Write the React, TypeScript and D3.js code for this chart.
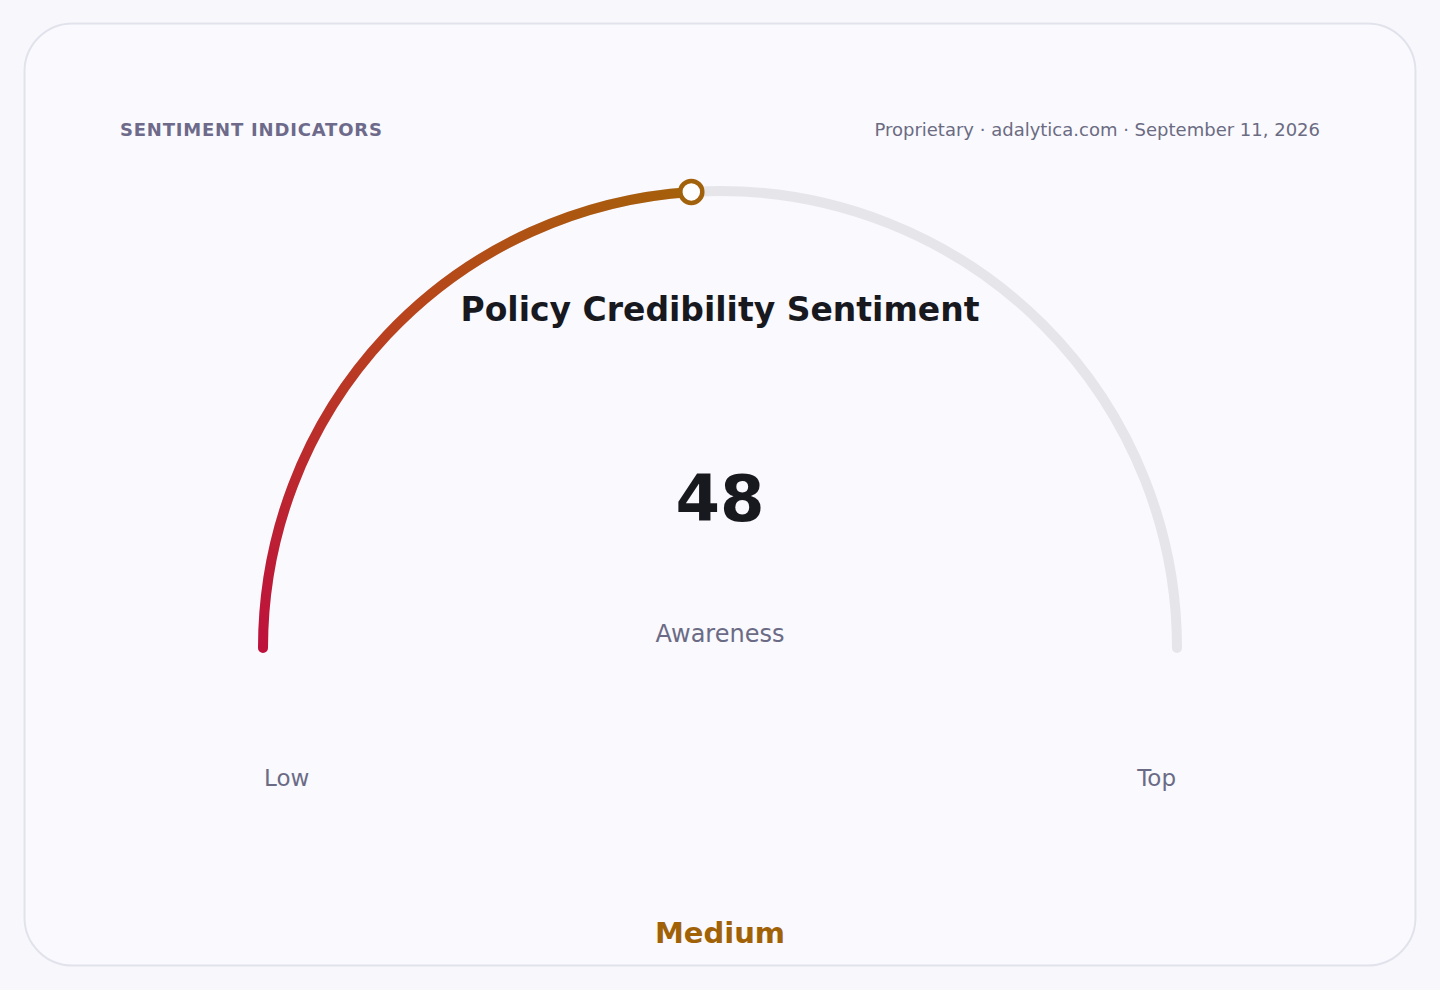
import React, { useEffect, useRef } from 'react';
import * as d3 from 'd3';

// gauge data
const gaugeValue = 48;
const gaugeDomain = [0, 100];
const gaugeTitle = 'Policy Credibility Sentiment';
const gaugeSubLabel = 'Awareness';
const gaugeBand = 'Medium';
const endLabels = ['Low', 'Top'];
const headerLeft = 'SENTIMENT INDICATORS';
const headerRight = 'Proprietary · adalytica.com · September 11, 2026';

const W = 1440;
const H = 990;

const App: React.FC = () => {
  const svgRef = useRef<SVGSVGElement>(null);

  useEffect(() => {
    if (!svgRef.current) return;
    const svg = d3.select(svgRef.current);
    svg.selectAll('*').remove();

    const font = "'DejaVu Sans', sans-serif";
    const cx = 720;
    const cy = 648;
    const r = 457;

    svg.append('rect').attr('width', W).attr('height', H).attr('fill', '#f8f8fc');
    svg.append('rect')
      .attr('x', 24.5).attr('y', 23.5)
      .attr('width', 1391).attr('height', 942)
      .attr('rx', 48)
      .attr('fill', '#f9f9fe')
      .attr('stroke', '#e2e2ec')
      .attr('stroke-width', 2);

    svg.append('text')
      .attr('x', 120).attr('y', 136)
      .attr('font-family', font).attr('font-size', 18).attr('font-weight', 'bold')
      .attr('letter-spacing', 0.8)
      .attr('fill', '#6d6a8a')
      .text(headerLeft);

    svg.append('text')
      .attr('x', 1320).attr('y', 136)
      .attr('text-anchor', 'end')
      .attr('font-family', font).attr('font-size', 18)
      .attr('fill', '#6b6b82')
      .text(headerRight);

    // value -> gauge angle, measured clockwise from 12 o'clock
    const angle = d3.scaleLinear().domain(gaugeDomain).range([-Math.PI / 2, Math.PI / 2]);
    const g = svg.append('g').attr('transform', `translate(${cx},${cy})`);

    // open arc path (so round caps show); d3.path angles start at 3 o'clock
    const arcPath = (a0: number, a1: number) => {
      const p = d3.path();
      const s = a0 - Math.PI / 2;
      const e = a1 - Math.PI / 2;
      p.moveTo(r * Math.cos(s), r * Math.sin(s));
      p.arc(0, 0, r, s, e, false);
      return p.toString();
    };

    g.append('path')
      .attr('d', arcPath(angle(gaugeDomain[0]), angle(gaugeDomain[1])))
      .attr('fill', 'none')
      .attr('stroke', '#e6e6ea')
      .attr('stroke-width', 10)
      .attr('stroke-linecap', 'round');

    const va = angle(gaugeValue);
    const mx = r * Math.sin(va);
    const my = -r * Math.cos(va);

    const defs = svg.append('defs');
    const grad = defs.append('linearGradient')
      .attr('id', 'gaugeGrad')
      .attr('gradientUnits', 'userSpaceOnUse')
      .attr('x1', -r).attr('y1', 0)
      .attr('x2', mx).attr('y2', my);
    grad.append('stop').attr('offset', '0%').attr('stop-color', '#be123c');
    grad.append('stop').attr('offset', '55%').attr('stop-color', '#b8451c');
    grad.append('stop').attr('offset', '100%').attr('stop-color', '#a5600a');

    g.append('path')
      .attr('d', arcPath(angle(gaugeDomain[0]), va))
      .attr('fill', 'none')
      .attr('stroke', 'url(#gaugeGrad)')
      .attr('stroke-width', 10)
      .attr('stroke-linecap', 'round');

    g.append('circle')
      .attr('cx', mx).attr('cy', my).attr('r', 11)
      .attr('fill', '#ffffff')
      .attr('stroke', '#a2620c')
      .attr('stroke-width', 4.5);

    svg.append('text')
      .attr('x', cx).attr('y', 321)
      .attr('text-anchor', 'middle')
      .attr('font-family', font).attr('font-size', 33).attr('font-weight', 'bold')
      .attr('fill', '#18181f')
      .text(gaugeTitle);

    svg.append('text')
      .attr('x', cx).attr('y', 521)
      .attr('text-anchor', 'middle')
      .attr('font-family', font).attr('font-size', 64).attr('font-weight', 'bold')
      .attr('fill', '#18181f')
      .text(String(gaugeValue));

    svg.append('text')
      .attr('x', cx).attr('y', 642)
      .attr('text-anchor', 'middle')
      .attr('font-family', font).attr('font-size', 24)
      .attr('fill', '#6b6b85')
      .text(gaugeSubLabel);

    svg.append('text')
      .attr('x', cx - r + 1).attr('y', 786)
      .attr('font-family', font).attr('font-size', 23)
      .attr('fill', '#6b6b85')
      .text(endLabels[0]);

    svg.append('text')
      .attr('x', cx + r - 1).attr('y', 786)
      .attr('text-anchor', 'end')
      .attr('font-family', font).attr('font-size', 23)
      .attr('fill', '#6b6b85')
      .text(endLabels[1]);

    svg.append('text')
      .attr('x', cx).attr('y', 943)
      .attr('text-anchor', 'middle')
      .attr('font-family', font).attr('font-size', 29).attr('font-weight', 'bold')
      .attr('fill', '#a16207')
      .text(gaugeBand);
  }, []);

  return (
    <div style={{ position: 'fixed', left: 0, top: 0, width: W, height: H }}>
      <svg ref={svgRef} width={W} height={H} style={{ display: 'block' }}></svg>
    </div>
  );
};

export default App;
